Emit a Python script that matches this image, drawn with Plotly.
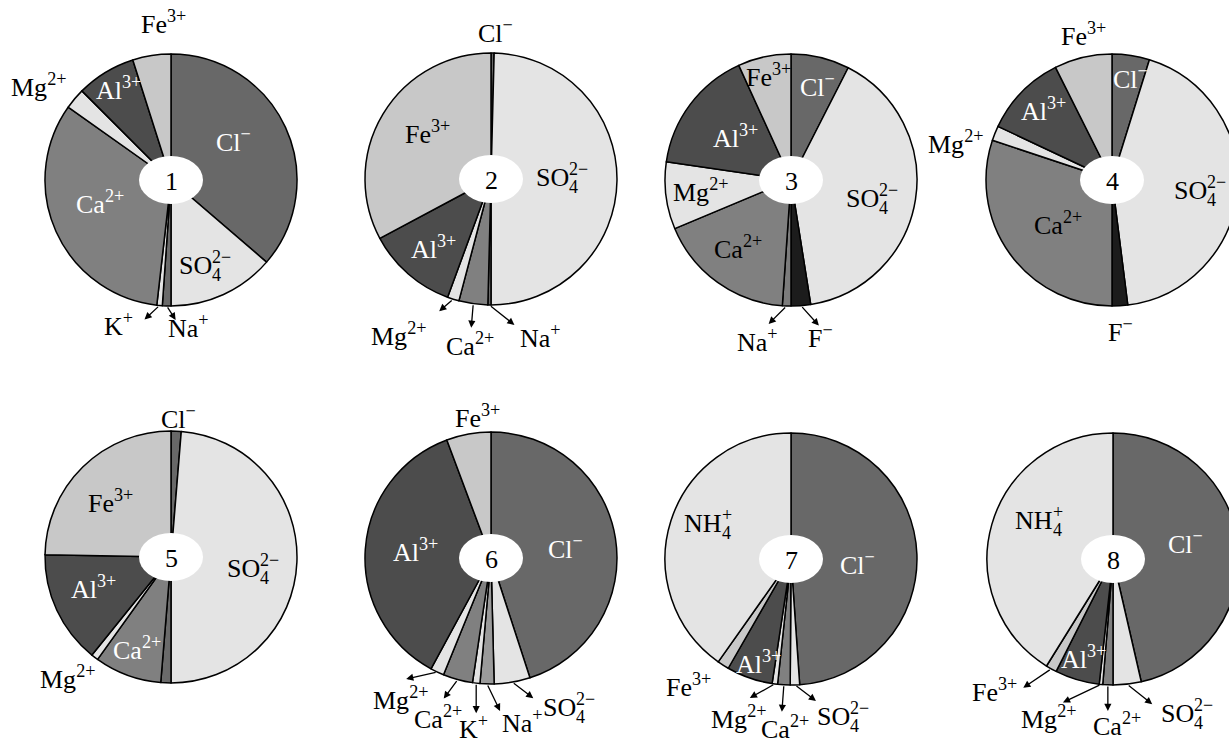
import math
import plotly.graph_objects as go

W, H = 1245, 744   # figure is a little wider than the 1229 px window so pie 4 is cut at the edge

# ---------------- data (percent share of each ion, clockwise from 12 o'clock) -------------
sample_numbers = ["1", "2", "3", "4", "5", "6", "7", "8"]

ions_1 = ["Cl", "SO4", "Na", "K", "Ca", "Mg", "Al", "Fe"]
share_1 = [36.3, 13.7, 1.1, 0.7, 33.0, 2.7, 7.6, 4.9]

ions_2 = ["Cl", "SO4", "Na", "Ca", "Mg", "Al", "Fe"]
share_2 = [0.4, 49.6, 0.4, 3.7, 1.5, 11.6, 32.8]

ions_3 = ["Cl", "SO4", "F", "Na", "Ca", "Mg", "Al", "Fe"]
share_3 = [7.5, 40.0, 2.5, 1.1, 17.6, 8.6, 15.9, 6.8]

ions_4 = ["Cl", "SO4", "F", "Ca", "Mg", "Al", "Fe"]
share_4 = [4.8, 43.2, 2.0, 30.1, 1.9, 10.6, 7.4]

ions_5 = ["Cl", "SO4", "Na", "Ca", "Mg", "Al", "Fe"]
share_5 = [1.3, 48.7, 1.3, 8.6, 0.9, 14.5, 24.7]

ions_6 = ["Cl", "SO4", "Na", "K", "Ca", "Mg", "Al", "Fe"]
share_6 = [45.0, 4.6, 1.8, 0.95, 3.8, 1.75, 36.4, 5.7]

ions_7 = ["Cl", "SO4", "Ca", "Mg", "Al", "Fe", "NH4"]
share_7 = [48.9, 1.2, 1.6, 0.7, 5.9, 1.5, 40.2]

ions_8 = ["Cl", "SO4", "Ca", "Mg", "Al", "Fe", "NH4"]
share_8 = [46.4, 3.6, 1.3, 0.45, 5.7, 1.4, 41.15]

# simple labels: (base text, superscript); stacked ones: (base, subscript, superscript)
ion_labels = {
    "Cl": ("Cl", "−"), "F": ("F", "−"), "Na": ("Na", "+"), "K": ("K", "+"),
    "Ca": ("Ca", "2+"), "Mg": ("Mg", "2+"), "Al": ("Al", "3+"), "Fe": ("Fe", "3+"),
}
stacked_labels = {"SO4": ("SO", "4", "2−"), "NH4": ("NH", "4", "+")}

ions_all = [ions_1, ions_2, ions_3, ions_4, ions_5, ions_6, ions_7, ions_8]
shares_all = [share_1, share_2, share_3, share_4, share_5, share_6, share_7, share_8]

# ---------------- style -------------
ion_colors = {
    "Cl": "#686868", "SO4": "#e4e4e4", "F": "#1c1c1c", "Na": "#6a6a6a",
    "K": "#e4e4e4", "Ca": "#808080", "Mg": "#e4e4e4", "Al": "#4c4c4c",
    "Fe": "#c8c8c8", "NH4": "#e4e4e4",
}
na_color_override = {2: "#7c7c7c", 5: "#9a9a9a"}

centers = [(171, 180), (491, 179), (791, 180), (1112, 180),
           (171, 557), (491, 558), (791, 559), (1113, 559)]
R = 126
ELL_W, ELL_H = 64, 48
FONT = "Liberation Serif, Times New Roman, serif"
FS = 26
SFS = 18           # script size for stacked labels
BASE_W = {"SO": 0.556 + 0.722, "NH": 0.722 + 0.722}   # em widths of base glyphs
WHITE, BLACK = "white", "black"

# per pie: ion -> (text dx, text dy, text colour, arrow vector from rim or None)
label_layout = [
    {"Cl": (62, -40, WHITE, None), "SO4": (34, 85, BLACK, None), "Ca": (-71, 22, WHITE, None),
     "Al": (-53, -92, WHITE, None), "Mg": (-133, -95, BLACK, None), "Fe": (-8, -157, BLACK, None),
     "K": (-53, 144, BLACK, (-15, 14)), "Na": (17, 147, BLACK, (9, 14))},
    {"Cl": (4, -147, BLACK, None), "SO4": (71, -2, BLACK, None), "Fe": (-64, -46, BLACK, None),
     "Al": (-58, 69, WHITE, None), "Mg": (-93, 156, BLACK, (-14, 12)),
     "Ca": (-21, 165, BLACK, (-2, 24)), "Na": (49, 158, BLACK, (25, 20))},
    {"Cl": (26, -95, WHITE, None), "SO4": (81, 18, BLACK, None), "Fe": (-23, -105, BLACK, None),
     "Al": (-56, -43, WHITE, None), "Mg": (-91, 10, BLACK, None), "Ca": (-53, 68, BLACK, None),
     "Na": (-34, 160, BLACK, (-18, 18)), "F": (29, 157, BLACK, (18, 20))},
    {"Cl": (18, -103, WHITE, None), "SO4": (88, 10, BLACK, None), "Ca": (-54, 43, BLACK, None),
     "Al": (-69, -70, WHITE, None), "Mg": (-157, -38, BLACK, None), "Fe": (-29, -145, BLACK, None),
     "F": (8, 150, BLACK, None)},
    {"Cl": (7, -139, BLACK, None), "SO4": (82, 11, BLACK, None), "Fe": (-61, -55, BLACK, None),
     "Al": (-78, 30, WHITE, None), "Ca": (-34, 91, WHITE, None), "Mg": (-104, 120, BLACK, None)},
    {"Fe": (-14, -141, BLACK, None), "Cl": (74, -11, WHITE, None), "Al": (-76, -8, WHITE, None),
     "Mg": (-91, 140, BLACK, (-31, 7)), "Ca": (-53, 159, BLACK, (-14, 19)),
     "K": (-18, 169, BLACK, (0, 30)), "Na": (31, 163, BLACK, (13, 27)),
     "SO4": (78, 149, BLACK, (21, 16))},
    {"NH4": (-79, -36, BLACK, None), "Cl": (66, 4, WHITE, None), "Al": (-33, 103, WHITE, None),
     "Fe": (-103, 126, BLACK, None), "Mg": (-53, 158, BLACK, (-25, 14)),
     "Ca": (-6, 168, BLACK, (-2, 27)), "SO4": (52, 157, BLACK, (21, 16))},
    {"NH4": (-70, -39, BLACK, None), "Cl": (72, -17, WHITE, None), "Al": (-30, 98, WHITE, None),
     "Fe": (-118, 131, BLACK, (-28, 19)), "Mg": (-65, 158, BLACK, (-38, 18)),
     "Ca": (4, 165, BLACK, (0, 26)), "SO4": (74, 154, BLACK, (25, 20))},
]


def px(x):
    return x / W


def py(y):
    return 1 - y / H


def text_ann(x, y, text, color, size=FS, xanchor="center", yanchor="middle"):
    return dict(x=px(x), y=py(y), xref="paper", yref="paper", text=text, showarrow=False,
                xanchor=xanchor, yanchor=yanchor, borderpad=0, borderwidth=0,
                font=dict(family=FONT, size=size, color=color))


fig = go.Figure()
shapes = []
annotations = []

for k, (ions, shares) in enumerate(zip(ions_all, shares_all)):
    cx, cy = centers[k]
    colors = []
    for ion in ions:
        c = ion_colors[ion]
        if ion == "Na" and k in na_color_override:
            c = na_color_override[k]
        colors.append(c)
    fig.add_trace(go.Pie(
        labels=ions, values=shares, sort=False, direction="clockwise", rotation=0,
        marker=dict(colors=colors, line=dict(color="black", width=1.5)),
        textinfo="none", hoverinfo="label+value", showlegend=False,
        domain=dict(x=[px(cx - R), px(cx + R)], y=[py(cy + R), py(cy - R)]),
    ))
    # centre ellipse with sample number
    shapes.append(dict(type="circle", xref="paper", yref="paper",
                       x0=px(cx - ELL_W / 2), x1=px(cx + ELL_W / 2),
                       y0=py(cy + ELL_H / 2), y1=py(cy - ELL_H / 2),
                       fillcolor="white", line=dict(width=0)))
    annotations.append(text_ann(cx, cy + 1, sample_numbers[k], BLACK))

    total = sum(shares)
    cum = 0.0
    for ion, v in zip(ions, shares):
        mid = (cum + v / 2) / total * 2 * math.pi
        cum += v
        if ion not in label_layout[k]:
            continue
        dx, dy, tcol, arrow = label_layout[k][ion]
        tx, ty = cx + dx, cy + dy
        if ion in stacked_labels:
            base, sub, sup = stacked_labels[ion]
            bw = BASE_W[base] * FS
            sw = max(len(sub) * 0.5, 0.5 + 0.564 * (len(sup) - 1) + (0.5 if sup == "+" else 0)) * SFS
            left = tx - (bw + sw) / 2
            annotations.append(text_ann(left, ty, base, tcol, xanchor="left"))
            annotations.append(text_ann(left + bw, ty + 10, sub, tcol, size=SFS, xanchor="left"))
            annotations.append(text_ann(left + bw, ty - 8, sup, tcol, size=SFS, xanchor="left"))
        else:
            base, sup = ion_labels[ion]
            annotations.append(text_ann(tx, ty, f"{base}<sup>{sup}</sup>", tcol))
        if arrow is not None:
            ax0 = cx + R * math.sin(mid)
            ay0 = cy - R * math.cos(mid)
            hx, hy = ax0 + arrow[0], ay0 + arrow[1]
            annotations.append(dict(x=px(hx), y=py(hy), xref="paper", yref="paper",
                                    ax=ax0 - hx, ay=ay0 - hy, text="", showarrow=True,
                                    arrowhead=2, arrowsize=1.1, arrowwidth=1.3,
                                    arrowcolor="black", standoff=0, startstandoff=0))

fig.update_layout(
    width=W, height=H, margin=dict(l=0, r=0, t=0, b=0),
    paper_bgcolor="white", plot_bgcolor="white",
    shapes=shapes, annotations=annotations,
)

page_css = ("document.documentElement.style.overflow='hidden';"
            "document.body.style.margin='0';"
            "document.body.style.overflow='hidden';")
fig.write_html("out.html", post_script=page_css, config={"displayModeBar": False})
